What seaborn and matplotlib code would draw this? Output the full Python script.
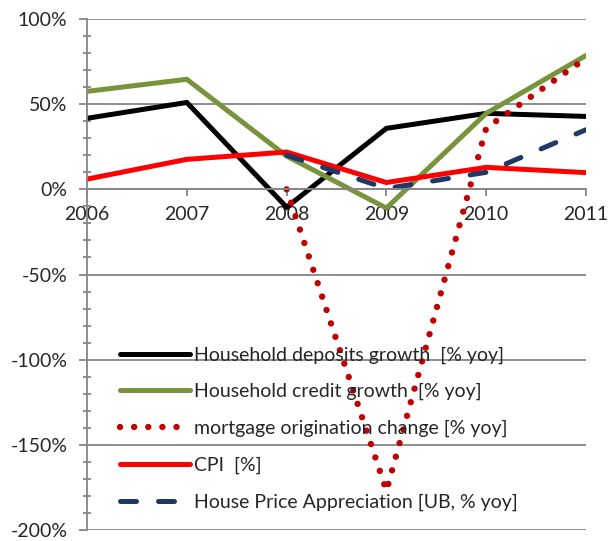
import numpy as np
import pandas as pd
import seaborn as sns
import matplotlib.pyplot as plt
from matplotlib.ticker import MultipleLocator

years = [2006, 2007, 2008, 2009, 2010, 2011]
deposits = [41.7, 51.0, -10.5, 35.8, 44.6, 42.8]
credit = [57.5, 64.6, 19.5, -11.0, 44.6, 78.6]
mortgage = [np.nan, np.nan, 0.0, -177.0, 36.0, 77.0]
cpi = [6.0, 17.6, 21.9, 4.0, 12.9, 9.8]
hpa = [np.nan, np.nan, 20.0, 0.5, 10.0, 35.0]

labels = ["Household deposits growth  [% yoy]",
          "Household credit growth  [% yoy]",
          "mortgage origination change [% yoy]",
          "CPI  [%]",
          "House Price Appreciation [UB, % yoy]"]
ytick_vals = [100, 50, 0, -50, -100, -150, -200]

sns.set_style("white")
plt.rcParams['font.family'] = ['Lato', 'DejaVu Sans']

fig = plt.figure(figsize=(6.1, 5.41), dpi=100)
ax = fig.add_axes([0.1426, 0.0203, 0.8181, 0.9446])

df = pd.DataFrame({"year": years})
lw = 3.6
# deposits, credit, mortgage, cpi, hpa - drawn in Excel series order
sns.lineplot(x=df["year"], y=deposits, ax=ax, color="black", lw=lw, label=labels[0],
             solid_capstyle="round", solid_joinstyle="miter")
sns.lineplot(x=df["year"], y=credit, ax=ax, color="#77933C", lw=lw, label=labels[1],
             solid_capstyle="round", solid_joinstyle="miter")
sns.lineplot(x=df["year"], y=mortgage, ax=ax, color="#C00000", lw=4.6, label=labels[2],
             dashes=False)
sns.lineplot(x=df["year"], y=cpi, ax=ax, color="#FF0000", lw=lw, label=labels[3],
             solid_capstyle="round", solid_joinstyle="miter")
sns.lineplot(x=df["year"], y=hpa, ax=ax, color="#1F3864", lw=lw, label=labels[4])

lines = ax.get_lines()
lines[2].set_linestyle((0, (0.01, 2.2)))
lines[2].set_dash_capstyle("round")
lines[4].set_linestyle((0, (3.2, 4.4)))
lines[4].set_dash_capstyle("round")

ax.set_xlim(2006, 2011)
ax.set_ylim(-200, 100)
ax.set_xticks(years)
ax.set_xticklabels([str(y) for y in years])
ax.set_yticks(ytick_vals)
ax.set_yticklabels([f"{v}%" for v in ytick_vals])
ax.yaxis.set_minor_locator(MultipleLocator(10))
ax.set_xlabel("")
ax.set_ylabel("")

grey = "#868686"
ax.grid(axis="y", color=grey, lw=1.3)
ax.set_axisbelow(True)
for s in ["top", "right"]:
    ax.spines[s].set_visible(False)
ax.spines["bottom"].set_position(("data", 0))
ax.spines["bottom"].set_color(grey)
ax.spines["bottom"].set_linewidth(1.3)
ax.spines["left"].set_color(grey)
ax.spines["left"].set_linewidth(1.3)
ax.tick_params(axis="x", direction="out", length=5, width=1.3, color=grey,
               labelsize=14, pad=7, bottom=True)
ax.tick_params(axis="y", which="major", direction="out", length=6, width=1.3,
               color=grey, labelsize=14, pad=8, left=True)
ax.tick_params(axis="y", which="minor", direction="inout", length=6, width=1.3,
               color=grey, left=True)

leg = ax.legend(loc="upper left", bbox_to_anchor=(0.197, 0.36), bbox_transform=fig.transFigure,
                frameon=False, fontsize=14, handlelength=3.6, handletextpad=0.2,
                labelspacing=1.0, borderaxespad=0, borderpad=0)

fig.savefig("out.png", dpi=100)
